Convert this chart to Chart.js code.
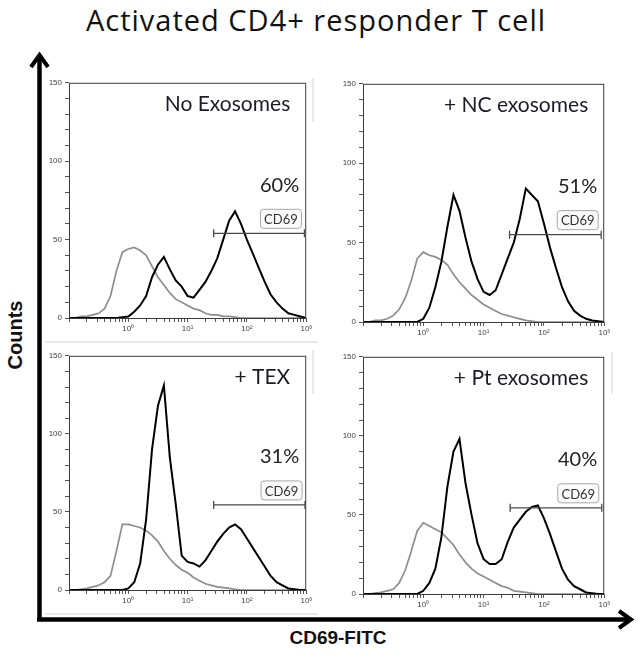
<!DOCTYPE html>
<html>
<head>
<meta charset="utf-8">
<script src="https://cdn.jsdelivr.net/npm/chart.js@4.4.1/dist/chart.umd.min.js"></script>
<style>
  body { margin: 0; background: #fff; }
  #page { position: relative; width: 641px; height: 656px; overflow: hidden; background: #fff; }
  #page canvas { position: absolute; }
  #title { position: absolute; left: 0; top: 0; width: 632px; text-align: center; letter-spacing: 1px;
           font: 29px "Open Sans", Lato, sans-serif; color: #111; white-space: nowrap; }
  #ylab { position: absolute; left: 15px; top: 335px; transform: translate(-50%, -50%) rotate(-90deg);
          font: bold 20px "Liberation Sans", Arial, sans-serif; color: #111; white-space: nowrap; }
  #xlab { position: absolute; left: 338px; top: 638px; transform: translate(-50%, -50%);
          font: bold 19px "Liberation Sans", Arial, sans-serif; color: #111; white-space: nowrap; }
  svg { position: absolute; left: 0; top: 0; }
</style>
</head>
<body>
<div id="page">
  <svg width="641" height="656">
    <g stroke="#e2e2e2" stroke-width="1.5" fill="none">
      <line x1="313" y1="78" x2="313" y2="122"/>
      <line x1="45" y1="342" x2="318" y2="342"/>
      <line x1="313" y1="350" x2="313" y2="394"/>
      <line x1="612" y1="352" x2="612" y2="394"/>
      <line x1="45" y1="614" x2="318" y2="614"/>
    </g>
    <g stroke="#000" stroke-width="4.5" fill="none" stroke-linecap="butt">
      <line x1="39.5" y1="58" x2="39.5" y2="621"/>
      <line x1="37" y1="619.5" x2="628" y2="619.5"/>
    </g>
    <g stroke="#000" stroke-width="4" fill="none" stroke-linejoin="miter">
      <polyline points="31,67 39.5,55 48,67"/>
      <polyline points="619,611 631,619.5 619,628"/>
    </g>
  </svg>
  <div id="title">Activated CD4+ responder T cell</div>
  <div id="ylab">Counts</div>
  <div id="xlab">CD69-FITC</div>
  <canvas id="p0" width="270" height="265" style="left:44px;top:75px"></canvas>
  <canvas id="p1" width="274" height="268" style="left:338px;top:76px"></canvas>
  <canvas id="p2" width="270" height="264" style="left:44px;top:348px"></canvas>
  <canvas id="p3" width="274" height="267" style="left:338px;top:349px"></canvas>
</div>
<script>
// fluorescence channel, log10 scale (-1 = 10^-1 ... 3 = 10^3)
var LOG_X = [-1.0, -0.9, -0.8, -0.7, -0.6, -0.5, -0.4, -0.3, -0.2, -0.1,
              0.0,  0.1,  0.2,  0.3,  0.4,  0.5,  0.6,  0.7,  0.8,  0.9,
              1.0,  1.1,  1.2,  1.3,  1.4,  1.5,  1.6,  1.7,  1.8,  1.9,
              2.0,  2.1,  2.2,  2.3,  2.4,  2.5,  2.6,  2.7,  2.8,  2.9,
              3.0];

// gray = unstained / isotype, black = CD69 stained
var ISO_NO_EXO  = [0, 0, 1, 1, 2, 3, 6, 14, 30, 42,  44, 45, 43, 40, 33, 26, 21, 16, 12, 10,
                   8, 6, 5, 3, 2, 2, 1, 1, 0.5, 0,  0, 0, 0, 0, 0, 0, 0, 0, 0, 0,  0];
var CD69_NO_EXO = [0, 0, 0, 0, 0, 0, 0, 0, 0, 0.5,  1, 4, 8, 14, 26, 34, 39, 31, 24, 20,
                   14, 13, 18, 23, 30, 38, 50, 62, 68, 60,  50, 41, 32, 23, 15, 10, 6, 3, 2, 1,  0];

var ISO_NC  = [0, 0, 1, 1, 2, 4, 8, 15, 26, 40,  44, 42, 41, 39, 36, 30, 25, 21, 17, 14,
               11, 9, 7, 5, 4, 3, 2, 1, 0.5, 0,  0, 0, 0, 0, 0, 0, 0, 0, 0, 0,  0];
var CD69_NC = [0, 0, 0, 0, 0, 0, 0, 0, 0, 0,  2, 9, 22, 38, 60, 80, 70, 53, 38, 27,
               19, 17, 20, 30, 40, 50, 65, 84, 80, 76,  62, 47, 34, 22, 13, 7, 4, 2, 1, 0.5,  0];

var ISO_TEX  = [0, 0, 0.5, 1, 2, 3, 5, 9, 25, 42,  42, 41, 40, 38, 35, 31, 25, 20, 16, 13,
                11, 8, 6, 4, 3, 2, 1.5, 1, 0.5, 0,  0, 0, 0, 0, 0, 0, 0, 0, 0, 0,  0];
var CD69_TEX = [0, 0, 0, 0, 0, 0, 0, 0, 0, 0,  1, 5, 17, 45, 90, 118, 131, 85, 55, 22,
                18, 17, 15, 19, 25, 31, 36, 40, 42, 39,  33, 27, 21, 15, 9, 5, 3, 1, 0.5, 0,  0];

var ISO_PT  = [0, 0, 0.5, 1, 2, 3, 7, 15, 27, 40,  45, 43, 41, 39, 35, 31, 25, 20, 16, 13,
               11, 9, 7, 5, 4, 2, 1.5, 1, 0.5, 0,  0, 0, 0, 0, 0, 0, 0, 0, 0, 0,  0];
var CD69_PT = [0, 0, 0, 0, 0, 0, 0, 0, 0, 0,  2, 7, 16, 36, 68, 90, 98, 70, 50, 32,
               22, 19, 19, 22, 33, 42, 47, 52, 55, 56,  48, 38, 27, 16, 9, 5, 3, 1, 0.5, 0,  0];

var PANEL_TITLES = ['No Exosomes', '+ NC exosomes', '+ TEX', '+ Pt exosomes'];
var PANEL_PCTS   = ['60%', '51%', '31%', '40%'];
var GATE_NAME    = 'CD69';
var GATE_FROM    = [1.44, 1.43, 1.44, 1.44];
var GATE_TO      = [2.97, 2.95, 2.98, 2.96];
var GATE_LEVEL   = [54, 55, 54.5, 54.5];

var X_DECADES     = [0, 1, 2, 3];
var X_TICK_LABELS = ['10\u2070', '10\u00b9', '10\u00b2', '10\u00b3'];
var Y_TICK_LABELS = [0, 50, 100, 150];

var ISO_SERIES  = [ISO_NO_EXO, ISO_NC, ISO_TEX, ISO_PT];
var CD69_SERIES = [CD69_NO_EXO, CD69_NC, CD69_TEX, CD69_PT];

function toPoints(arr) {
  return LOG_X.map(function (x, j) { return { x: x, y: arr[j] }; });
}

// log-scale minor tick marks between the decades
function logTicks() {
  var t = [];
  for (var d = -1; d < 3; d++) {
    for (var k = 1; k < 10; k++) t.push({ value: d + Math.log10(k) });
  }
  t.push({ value: 3 });
  return t;
}

var decor = {
  id: 'panelDecor',
  afterDatasetsDraw: function (chart, args, o) {
    var c  = chart.ctx;
    var a  = chart.chartArea;
    var xs = chart.scales.x;
    var ys = chart.scales.y;

    c.save();
    // plot frame
    c.strokeStyle = '#3c3c3c';
    c.lineWidth   = 1;
    c.strokeRect(a.left + 0.5, a.top + 0.5, a.right - a.left - 1, a.bottom - a.top);

    // sample name, top right
    c.fillStyle    = '#1c1c28';
    c.font         = '21px Lato, "Open Sans", sans-serif';
    c.textAlign    = 'right';
    c.textBaseline = 'alphabetic';
    c.fillText(o.title, a.right - 16, a.top + 28);

    var gx = xs.getPixelForValue(o.gateTo);
    var gy = ys.getPixelForValue(o.gateLevel);

    // percentage in gate
    c.font         = '20px Lato, "Open Sans", sans-serif';
    c.textBaseline = 'middle';
    c.fillStyle    = '#222';
    c.fillText(o.pct, a.right - 7, gy - 48);

    // gate name box
    var bw = 41, bh = 19, bx = gx - 3 - bw, by = gy - 5 - bh, r = 3;
    c.beginPath();
    c.moveTo(bx + r, by);
    c.lineTo(bx + bw - r, by);
    c.quadraticCurveTo(bx + bw, by, bx + bw, by + r);
    c.lineTo(bx + bw, by + bh - r);
    c.quadraticCurveTo(bx + bw, by + bh, bx + bw - r, by + bh);
    c.lineTo(bx + r, by + bh);
    c.quadraticCurveTo(bx, by + bh, bx, by + bh - r);
    c.lineTo(bx, by + r);
    c.quadraticCurveTo(bx, by, bx + r, by);
    c.closePath();
    c.fillStyle = '#fbfbfb';
    c.fill();
    c.strokeStyle = '#a8a8a8';
    c.stroke();
    c.fillStyle = '#333';
    c.font      = '13px Lato, "Open Sans", sans-serif';
    c.textAlign = 'center';
    c.fillText(GATE_NAME, bx + bw / 2, by + bh / 2 + 1);
    c.restore();
  }
};

function makePanel(i) {
  var ctx = document.getElementById('p' + i).getContext('2d');
  return new Chart(ctx, {
    type: 'line',
    plugins: [decor],
    data: {
      datasets: [
        {
          label: 'gate',
          data: [{ x: GATE_FROM[i], y: GATE_LEVEL[i] }, { x: GATE_TO[i], y: GATE_LEVEL[i] }],
          borderColor: '#4a4a4a',
          borderWidth: 1.3,
          pointStyle: 'line',
          pointRotation: 90,
          pointRadius: 4,
          pointBorderColor: '#4a4a4a',
          pointBorderWidth: 1.3,
          order: 1
        },
        {
          label: 'CD69',
          data: toPoints(CD69_SERIES[i]),
          borderColor: '#000',
          borderWidth: 2,
          pointRadius: 0,
          tension: 0,
          order: 2
        },
        {
          label: 'control',
          data: toPoints(ISO_SERIES[i]),
          borderColor: '#8e8e8e',
          borderWidth: 1.7,
          pointRadius: 0,
          tension: 0,
          order: 3
        }
      ]
    },
    options: {
      responsive: false,
      animation: false,
      events: [],
      layout: { padding: { top: 5, right: 7, left: 0, bottom: 0 } },
      plugins: {
        legend:  { display: false },
        tooltip: { enabled: false },
        panelDecor: {
          title: PANEL_TITLES[i],
          pct: PANEL_PCTS[i],
          gateTo: GATE_TO[i],
          gateLevel: GATE_LEVEL[i]
        }
      },
      scales: {
        x: {
          type: 'linear',
          min: -1,
          max: 3,
          afterBuildTicks: function (s) { s.ticks = logTicks(); },
          afterFit: function (s) { s.height = 22; },
          border: { display: false },
          grid: { display: true, drawOnChartArea: false, tickLength: 4, tickColor: '#555', tickWidth: 1 },
          ticks: {
            autoSkip: false,
            maxRotation: 0,
            padding: 2,
            color: '#444',
            font: { family: '"Liberation Sans", Arial, sans-serif', size: 8 },
            callback: function (v) {
              var k = X_DECADES.indexOf(Math.round(v * 1000) / 1000);
              return k >= 0 ? X_TICK_LABELS[k] : '';
            }
          }
        },
        y: {
          min: 0,
          max: 150,
          afterFit: function (s) { s.width = 25; },
          border: { display: false },
          grid: { display: true, drawOnChartArea: false, tickLength: 4, tickColor: '#555', tickWidth: 1 },
          ticks: {
            stepSize: 10,
            padding: 3,
            color: '#444',
            font: { family: '"Liberation Sans", Arial, sans-serif', size: 8 },
            callback: function (v) { return Y_TICK_LABELS.indexOf(v) >= 0 ? String(v) : ''; }
          }
        }
      }
    }
  });
}

for (var p = 0; p < 4; p++) makePanel(p);
</script>
</body>
</html>
